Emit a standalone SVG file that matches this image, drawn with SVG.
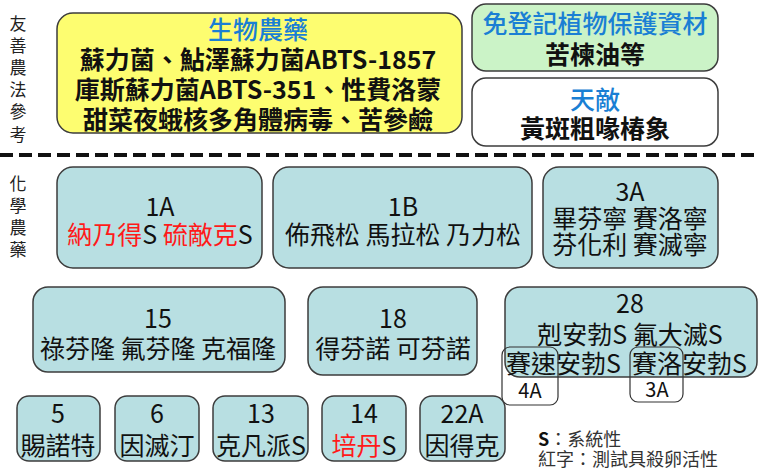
<svg xmlns="http://www.w3.org/2000/svg" width="759" height="471" viewBox="0 0 759 471">
<style>
text{font-family:"Noto Sans CJK TC","Noto Sans",sans-serif;dominant-baseline:central;text-anchor:middle;fill:#111;}
.side{font-size:17px;fill:#222;}
.t{font-size:25px;}
.b{font-size:25px;font-weight:bold;}
.blue{fill:#1a7fd4;}
.red{fill:#ff1a1a;}
.teal{fill:#b8dfe2;stroke:#3c3c3c;stroke-width:1.5;}
.tag{fill:none;stroke:#333;stroke-width:1.2;}
.tagt{font-size:20px;}
.leg{font-size:18px;text-anchor:start;fill:#333;}
</style>
<g id="labels">
<text class="side" x="18"><tspan x="18" y="22">友</tspan><tspan x="18" y="44">善</tspan><tspan x="18" y="66">農</tspan><tspan x="18" y="88">法</tspan><tspan x="18" y="110">參</tspan><tspan x="18" y="133">考</tspan></text>
<text class="side" x="18"><tspan x="18" y="182">化</tspan><tspan x="18" y="204">學</tspan><tspan x="18" y="226">農</tspan><tspan x="18" y="248">藥</tspan></text>
</g>
<g id="connectors">
<line x1="0" y1="155" x2="759" y2="155" stroke="#111" stroke-width="4" stroke-dasharray="13 6"/>
</g>
<g id="bio">
<rect x="57" y="13" width="405" height="120" rx="16" fill="#fdfd70" stroke="#3c3c3c" stroke-width="1.5"/>
<text class="b"><tspan class="blue" x="258" y="28" style="font-weight:500">生物農藥</tspan><tspan x="258" y="58">蘇力菌、鮎澤蘇力菌ABTS-1857</tspan><tspan x="258" y="88">庫斯蘇力菌ABTS-351、性費洛蒙</tspan><tspan x="258" y="118">甜菜夜蛾核多角體病毒、苦參鹼</tspan></text>
</g>
<g id="exempt">
<rect x="472" y="4" width="246" height="67" rx="14" fill="#cbf3c7" stroke="#3c3c3c" stroke-width="1.5"/>
<text class="b"><tspan class="blue" x="595" y="22" style="font-weight:500">免登記植物保護資材</tspan><tspan x="595" y="53">苦楝油等</tspan></text>
</g>
<g id="enemy">
<rect x="472" y="78" width="246" height="68" rx="14" fill="#fff" stroke="#3c3c3c" stroke-width="1.5"/>
<text class="b"><tspan class="blue" x="595" y="98" style="font-weight:500">天敵</tspan><tspan x="595" y="127">黃斑粗喙椿象</tspan></text>
</g>
<g id="g1A">
<rect class="teal" x="57" y="167" width="205" height="101" rx="16"/>
<text class="t"><tspan x="160" y="205">1A</tspan><tspan x="160" y="233"><tspan class="red">納乃得</tspan>S <tspan class="red">硫敵克</tspan>S</tspan></text>
</g>
<g id="g1B">
<rect class="teal" x="273" y="167" width="259" height="101" rx="16"/>
<text class="t"><tspan x="403" y="205">1B</tspan><tspan x="403" y="233">佈飛松 馬拉松 乃力松</tspan></text>
</g>
<g id="g3A">
<rect class="teal" x="543" y="167" width="175" height="101" rx="16"/>
<text class="t"><tspan x="630" y="190">3A</tspan><tspan x="630" y="217">畢芬寧 賽洛寧</tspan><tspan x="630" y="243">芬化利 賽滅寧</tspan></text>
</g>
<g id="g15">
<rect class="teal" x="33" y="287" width="252" height="85" rx="15"/>
<text class="t"><tspan x="158" y="317">15</tspan><tspan x="158" y="347">祿芬隆 氟芬隆 克福隆</tspan></text>
</g>
<g id="g18">
<rect class="teal" x="308" y="287" width="169" height="88" rx="15"/>
<text class="t"><tspan x="393" y="317">18</tspan><tspan x="393" y="347">得芬諾 可芬諾</tspan></text>
</g>
<g id="g28">
<rect class="teal" x="505" y="287" width="252" height="90" rx="15"/>
<text class="t"><tspan x="630" y="302">28</tspan><tspan x="630" y="333">剋安勃S 氟大滅S</tspan><tspan x="506" y="362" style="text-anchor:start">賽速安勃S</tspan><tspan x="632" y="362" style="text-anchor:start">賽洛安勃S</tspan></text>
</g>
<g id="tag4A">
<rect class="tag" x="502" y="347" width="56" height="58" rx="8"/>
<text class="tagt" x="530" y="389">4A</text>
</g>
<g id="tag3A">
<rect class="tag" x="630" y="347" width="53" height="55" rx="8"/>
<text class="tagt" x="657" y="388">3A</text>
</g>
<g id="g5">
<rect class="teal" x="17" y="396" width="83" height="65" rx="12"/>
<text class="t"><tspan x="58" y="412">5</tspan><tspan x="58" y="444">賜諾特</tspan></text>
</g>
<g id="g6">
<rect class="teal" x="115" y="396" width="84" height="65" rx="12"/>
<text class="t"><tspan x="157" y="412">6</tspan><tspan x="157" y="444">因滅汀</tspan></text>
</g>
<g id="g13">
<rect class="teal" x="213" y="396" width="95" height="65" rx="12"/>
<text class="t"><tspan x="261" y="412">13</tspan><tspan x="261" y="444">克凡派S</tspan></text>
</g>
<g id="g14">
<rect class="teal" x="322" y="396" width="84" height="65" rx="12"/>
<text class="t"><tspan x="364" y="412">14</tspan><tspan x="364" y="444"><tspan class="red">培丹</tspan>S</tspan></text>
</g>
<g id="g22A">
<rect class="teal" x="420" y="396" width="85" height="65" rx="12"/>
<text class="t"><tspan x="462" y="412">22A</tspan><tspan x="462" y="444">因得克</tspan></text>
</g>
<g id="legend">
<text class="leg"><tspan x="538" y="438"><tspan style="font-weight:bold;fill:#111">S</tspan>：系統性</tspan><tspan x="538" y="458">紅字：測試具殺卵活性</tspan></text>
</g>
</svg>
